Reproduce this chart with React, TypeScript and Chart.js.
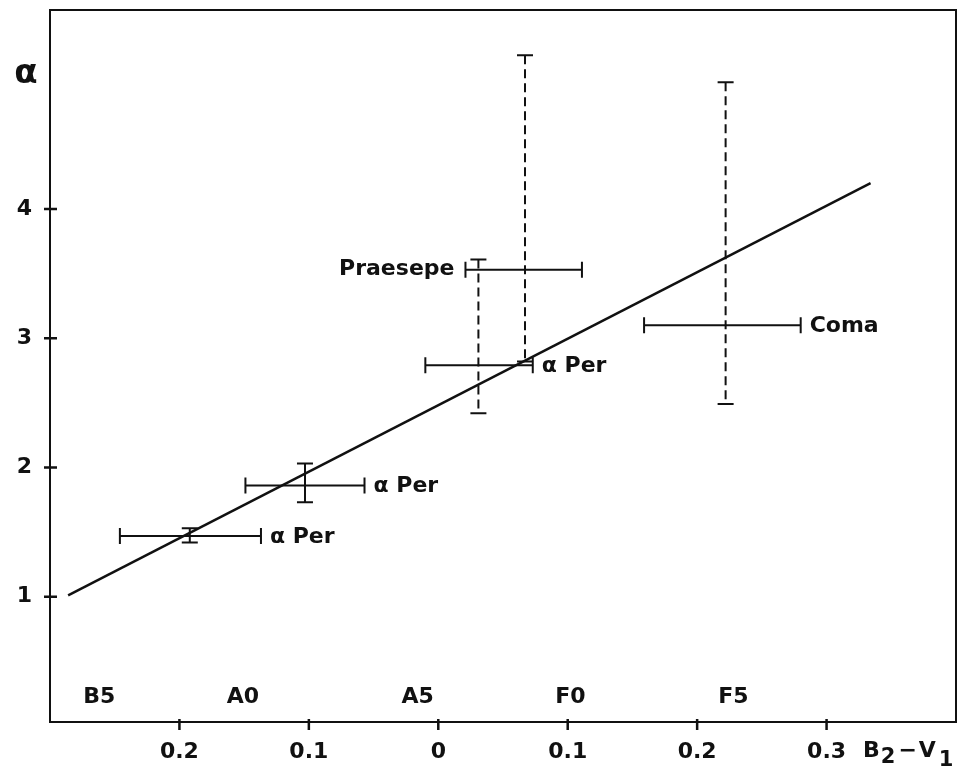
import React, { useEffect, useRef } from "react";
import { Chart, registerables } from "chart.js";

Chart.register(...registerables);

// Axis ticks
const xTicks = [-0.2, -0.1, 0, 0.1, 0.2, 0.3];
const yTicks = [1, 2, 3, 4];

// Data points with error bars
const pointNames = ["α Per", "α Per", "α Per", "Praesepe", "Coma"];
const labelSide = ["right", "right", "right", "left", "right"];
const xVals = [-0.192, -0.103, 0.031, 0.067, 0.222];
const xLow = [-0.246, -0.149, -0.010, 0.021, 0.159];
const xHigh = [-0.137, -0.057, 0.073, 0.111, 0.280];
const yVals = [1.47, 1.86, 2.79, 3.53, 3.10];
const yLow = [1.42, 1.73, 2.42, 2.82, 2.49];
const yHigh = [1.53, 2.03, 3.61, 5.19, 4.98];
const yErrDashed = [false, false, true, true, true];

// Fitted line
const fitX = [-0.286, 0.334];
const fitY = [1.01, 4.2];

// Spectral types along the colour axis
const spectralTypes = ["B5", "A0", "A5", "F0", "F5"];
const spectralX = [-0.262, -0.151, -0.016, 0.102, 0.228];

const FONT = '"DejaVu Sans", "Liberation Sans", Arial, sans-serif';
const INK = "#111";

export default function App() {
  const ref = useRef<HTMLCanvasElement>(null);

  useEffect(() => {
    document.body.style.margin = "0";
    const canvas = ref.current;
    if (!canvas) return;

    const overlay = {
      id: "overlay",
      afterDatasetsDraw(chart: any) {
        const { ctx, chartArea, scales } = chart;
        const xs = scales.x;
        const ys = scales.y;
        ctx.save();
        ctx.strokeStyle = INK;
        ctx.fillStyle = INK;
        ctx.lineCap = "butt";

        // frame
        ctx.lineWidth = 2;
        ctx.strokeRect(
          chartArea.left,
          chartArea.top,
          chartArea.right - chartArea.left,
          chartArea.bottom - chartArea.top
        );

        // tick marks
        ctx.lineWidth = 2.5;
        ctx.beginPath();
        for (const v of xTicks) {
          const px = xs.getPixelForValue(v);
          ctx.moveTo(px, chartArea.bottom - 3);
          ctx.lineTo(px, chartArea.bottom + 8);
        }
        for (const v of yTicks) {
          const py = ys.getPixelForValue(v);
          ctx.moveTo(chartArea.left - 6, py);
          ctx.lineTo(chartArea.left + 7, py);
        }
        ctx.stroke();

        // error bars
        ctx.lineWidth = 2;
        for (let i = 0; i < xVals.length; i++) {
          const px = xs.getPixelForValue(xVals[i]);
          const py = ys.getPixelForValue(yVals[i]);
          const x0 = xs.getPixelForValue(xLow[i]);
          const x1 = xs.getPixelForValue(xHigh[i]);
          const y0 = ys.getPixelForValue(yLow[i]);
          const y1 = ys.getPixelForValue(yHigh[i]);
          // horizontal
          ctx.setLineDash([]);
          ctx.beginPath();
          ctx.moveTo(x0, py);
          ctx.lineTo(x1, py);
          ctx.moveTo(x0, py - 8);
          ctx.lineTo(x0, py + 8);
          ctx.moveTo(x1, py - 8);
          ctx.lineTo(x1, py + 8);
          ctx.stroke();
          // vertical
          ctx.beginPath();
          ctx.moveTo(px - 8, y0);
          ctx.lineTo(px + 8, y0);
          ctx.moveTo(px - 8, y1);
          ctx.lineTo(px + 8, y1);
          ctx.stroke();
          if (yErrDashed[i]) ctx.setLineDash([9, 5]);
          ctx.beginPath();
          ctx.moveTo(px, y1);
          ctx.lineTo(px, y0);
          ctx.stroke();
          ctx.setLineDash([]);

          // label
          ctx.font = `bold 22px ${FONT}`;
          ctx.textBaseline = "middle";
          if (labelSide[i] === "right") {
            ctx.textAlign = "left";
            ctx.fillText(pointNames[i], x1 + 9, py + 1);
          } else {
            ctx.textAlign = "right";
            ctx.fillText(pointNames[i], x0 - 11, py);
          }
        }

        // spectral types
        ctx.font = `bold 22px ${FONT}`;
        ctx.textAlign = "center";
        ctx.textBaseline = "middle";
        for (let i = 0; i < spectralTypes.length; i++) {
          ctx.fillText(spectralTypes[i], xs.getPixelForValue(spectralX[i]), chartArea.bottom - 25);
        }

        // y-axis title
        ctx.font = `bold 34px ${FONT}`;
        ctx.textAlign = "center";
        ctx.textBaseline = "middle";
        ctx.fillText("α", 26, chartArea.top + 64);

        // x-axis title B2-V1
        ctx.textAlign = "left";
        ctx.textBaseline = "alphabetic";
        let tx = chartArea.right - 93;
        const base = chartArea.bottom + 35;
        const parts: [string, number, number, number][] = [
          ["B", 22, 0, 1],
          ["2", 21, 6, 3],
          ["−", 22, 0, 2],
          ["V", 22, 0, 3],
          ["1", 21, 9, 0],
        ];
        for (const [t, size, dy, gap] of parts) {
          ctx.font = `bold ${size}px ${FONT}`;
          ctx.fillText(t, tx, base + dy);
          tx += ctx.measureText(t).width + gap;
        }

        ctx.restore();
      },
    };

    const tickFont = { family: FONT, size: 22, weight: "bold" as const };

    const chart = new Chart(canvas, {
      type: "scatter",
      data: {
        datasets: [
          {
            type: "line",
            data: fitX.map((x, i) => ({ x, y: fitY[i] })),
            borderColor: INK,
            borderWidth: 2.5,
            pointRadius: 0,
            fill: false,
            tension: 0,
          } as any,
          {
            data: xVals.map((x, i) => ({ x, y: yVals[i] })),
            pointRadius: 0,
            showLine: false,
          },
        ],
      },
      options: {
        animation: false,
        responsive: false,
        devicePixelRatio: 1,
        layout: { padding: { top: 10, right: 3, left: 0, bottom: 0 } },
        plugins: { legend: { display: false }, tooltip: { enabled: false } },
        scales: {
          x: {
            type: "linear",
            min: -0.3,
            max: 0.4,
            afterBuildTicks: (s: any) => {
              s.ticks = xTicks.map((v) => ({ value: v }));
            },
            afterFit: (s: any) => {
              s.height = 49;
              s.paddingLeft = 0;
              s.paddingRight = 0;
              s.paddingTop = 0;
              s.paddingBottom = 0;
            },
            grid: { display: false, drawTicks: false },
            border: { display: true, color: INK, width: 2 },
            ticks: {
              callback: (v: any) => (Number(v) === 0 ? "0" : Math.abs(Number(v)).toFixed(1)),
              font: tickFont,
              color: INK,
              padding: 17,
              maxRotation: 0,
              autoSkip: false,
            },
          },
          y: {
            type: "linear",
            min: 0.03,
            max: 5.54,
            afterBuildTicks: (s: any) => {
              s.ticks = yTicks.map((v) => ({ value: v }));
            },
            afterFit: (s: any) => {
              s.width = 50;
              s.paddingLeft = 0;
              s.paddingRight = 0;
              s.paddingTop = 0;
              s.paddingBottom = 0;
            },
            grid: { display: false, drawTicks: false },
            border: { display: true, color: INK, width: 2 },
            ticks: {
              callback: (v: any) => String(v),
              font: tickFont,
              color: INK,
              padding: 18,
              autoSkip: false,
            },
          },
        },
      },
      plugins: [overlay],
    });

    return () => chart.destroy();
  }, []);

  return (
    <div style={{ width: 959, height: 771, background: "#fff" }}>
      <canvas ref={ref} width={959} height={771} style={{ display: "block" }} />
    </div>
  );
}
